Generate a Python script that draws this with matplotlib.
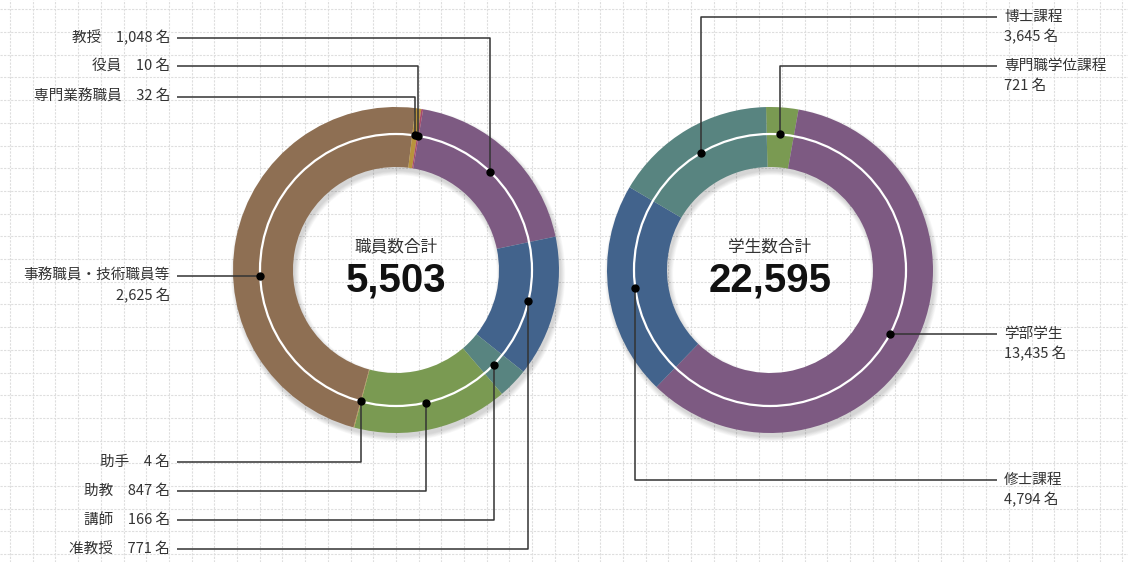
import numpy as np
import matplotlib
matplotlib.use("Agg")
import matplotlib.pyplot as plt
from matplotlib.patches import Wedge, Circle

plt.rcParams['font.family'] = ['Noto Sans CJK JP', 'DejaVu Sans']

# data
staff_labels = ['教授', '准教授', '講師', '助教', '助手', '事務職員・技術職員等', '専門業務職員', '役員']
staff_counts = [1048, 771, 166, 847, 4, 2625, 32, 10]
staff_colors = ['#7d5a82', '#42638c', '#588480', '#7a9a52', '#b99a42', '#8e6f53', '#b8933c', '#a84a6a']
staff_total_title = '職員数合計'

student_labels = ['専門職学位課程', '学部学生', '修士課程', '博士課程']
student_counts = [721, 13435, 4794, 3645]
student_colors = ['#7a9a52', '#7d5a82', '#42638c', '#588480']
student_total_title = '学生数合計'

W, H = 1128, 562
R, RW, RM = 163, 60, 136   # outer radius, ring width, white line radius

fig = plt.figure(figsize=(W/100, H/100), dpi=100)
fig.patch.set_facecolor('white')
ax = fig.add_axes([0, 0, 1, 1])

def py(y):
    # pixel row -> data y
    return H - y

# background grid
for x in np.arange(10, W, 22.7):
    ax.plot([x, x], [0, H], color='#dedede', lw=0.8, ls=(0, (2, 1.2)), zorder=0)
for y in np.arange(9.3, H, 22.7):
    ax.plot([0, W], [py(y), py(y)], color='#dedede', lw=0.8, ls=(0, (2, 1.2)), zorder=0)


def donut(cx, cy, counts, colors, start):
    cy = py(cy)
    # soft shadow
    for k in range(7):
        ax.add_patch(Wedge((cx + 2, cy - 4), R + k * 0.7, 0, 360, width=RW + k * 1.4,
                           color='k', alpha=0.022, lw=0, zorder=1))
    wedges, _ = ax.pie(counts, colors=colors, center=(cx, cy), radius=R,
                       startangle=start, counterclock=False, frame=True,
                       wedgeprops=dict(width=RW, linewidth=0, zorder=2))
    ax.add_patch(Circle((cx, cy), RM, fill=False, ec='white', lw=1.6, zorder=3))
    return wedges


def leader(cx, cy, wedge, ly, lx, mode):
    cy = py(cy)
    if mode == 'h':
        dy = py(ly) - cy
        dx = np.sqrt(RM**2 - dy**2) * (1 if lx > cx else -1)
        dot = (cx + dx, py(ly))
        xs, ys = [dot[0], lx], [dot[1], dot[1]]
    else:
        a = np.deg2rad((wedge.theta1 + wedge.theta2) / 2)
        dot = (cx + RM * np.cos(a), cy + RM * np.sin(a))
        xs, ys = [dot[0], dot[0], lx], [dot[1], py(ly), py(ly)]
    ax.plot(xs, ys, color='#333333', lw=1.1, zorder=4, solid_capstyle='butt')
    ax.plot(dot[0], dot[1], 'o', ms=5, color='black', zorder=5)


# staff donut
scx, scy = 396, 270
sw = donut(scx, scy, staff_counts, staff_colors, 80.4)
staff_layout = {  # label row, route
    '教授': (38, 'v'), '役員': (66, 'v'), '専門業務職員': (97, 'v'),
    '事務職員・技術職員等': (276, 'h'), '助手': (462, 'v'), '助教': (491, 'v'),
    '講師': (520, 'v'), '准教授': (549, 'v'),
}
for w, name, n in zip(sw, staff_labels, staff_counts):
    ly, mode = staff_layout[name]
    leader(scx, scy, w, ly, 177, mode)
    if mode == 'h':
        ax.text(170, py(ly), name, ha='right', va='center', fontsize=10.5, color='#333333')
        ax.text(170, py(ly + 20), f'{n:,} 名', ha='right', va='center', fontsize=10.5, color='#333333')
    else:
        ax.text(170, py(ly), f'{name}\u3000{n:,} 名', ha='right', va='center',
                fontsize=10.5, color='#333333')

ax.text(scx, py(247), staff_total_title, ha='center', va='center', fontsize=12, color='#333333')
ax.text(scx, py(281), f'{sum(staff_counts):,}', ha='center', va='center', fontsize=29,
        fontweight='bold', family='Liberation Sans', color='#111111')

# student donut
tcx, tcy = 770, 270
tw = donut(tcx, tcy, student_counts, student_colors, 91.4)
student_layout = {
    '博士課程': (17, 'v'), '専門職学位課程': (66, 'v'),
    '学部学生': (334, 'h'), '修士課程': (480, 'v'),
}
for w, name, n in zip(tw, student_labels, student_counts):
    ly, mode = student_layout[name]
    leader(tcx, tcy, w, ly, 997, mode)
    ax.text(1004, py(ly), name, ha='left', va='center', fontsize=10.5, color='#333333')
    ax.text(1004, py(ly + 20), f'{n:,} 名', ha='left', va='center', fontsize=10.5, color='#333333')

ax.text(tcx, py(247), student_total_title, ha='center', va='center', fontsize=12, color='#333333')
ax.text(tcx, py(281), f'{sum(student_counts):,}', ha='center', va='center', fontsize=29,
        fontweight='bold', family='Liberation Sans', color='#111111')

ax.set_xlim(0, W)
ax.set_ylim(0, H)
ax.set_aspect('equal')
ax.axis('off')

fig.savefig('out.png', dpi=100)
